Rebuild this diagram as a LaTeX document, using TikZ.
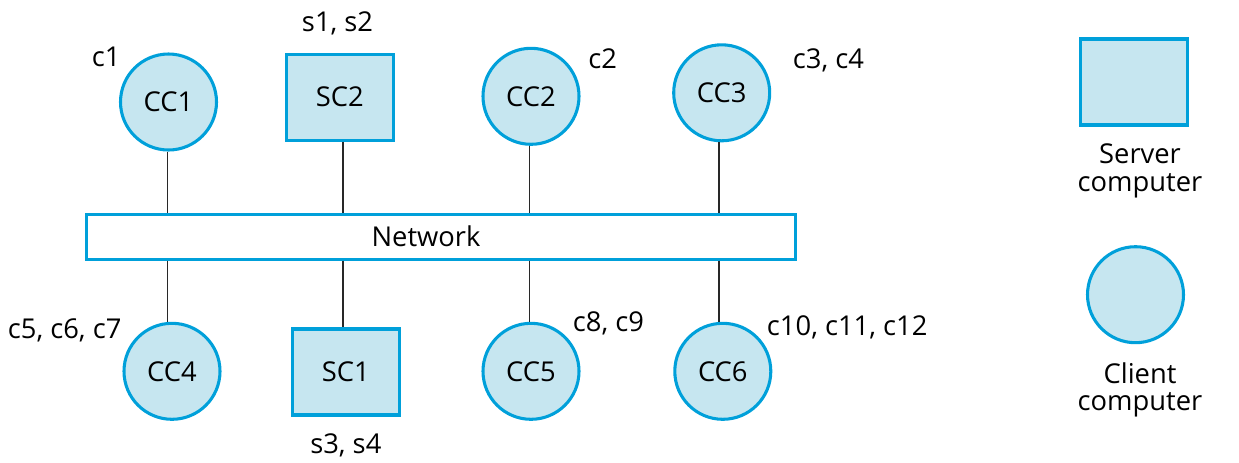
\documentclass[tikz,border=0pt]{standalone}
\usepackage{fontspec}
\setmainfont{Open Sans}
\definecolor{edgeblue}{RGB}{0,160,218}
\definecolor{fillblue}{RGB}{198,230,240}
\definecolor{linegray}{RGB}{40,40,40}
\begin{document}
\begin{tikzpicture}[x=0.75pt,y=-0.75pt,
  every node/.style={font=\fontsize{20.5}{26}\selectfont, text=black},
  client/.style={circle, draw=edgeblue, fill=fillblue, line width=2.3pt, minimum size=72pt, inner sep=0pt},
  server/.style={rectangle, draw=edgeblue, fill=fillblue, line width=2.3pt, minimum width=80pt, minimum height=64.5pt, inner sep=0pt},
  netbox/.style={rectangle, draw=edgeblue, fill=white, line width=2.3pt, minimum width=531.5pt, minimum height=33.3pt, inner sep=0pt},
  tag/.style={anchor=base west, inner sep=0pt},
  conn/.style={draw=linegray, line width=1.1pt}]
\useasboundingbox (0,0) rectangle (1239,462);
% network
\node[netbox] (net) at (440.8,237) {};
\node[inner sep=0pt] (nettext) at (426,236) {Network};
% top row
\node[client] (cc1) at (168.5,102) {CC1};
\node[server] (sc2) at (339.7,97.2) {SC2};
\node[client] (cc2) at (531,96.3) {CC2};
\node[client] (cc3) at (721.7,92.8) {CC3};
% bottom row
\node[client] (cc4) at (172,371.3) {CC4};
\node[server] (sc1) at (345.7,372) {SC1};
\node[client] (cc5) at (531,371.3) {CC5};
\node[client] (cc6) at (722.8,371.3) {CC6};
% connectors
\coordinate (p1) at (167.7,0);
\coordinate (p2) at (343,0);
\coordinate (p3) at (529.3,0);
\coordinate (p4) at (719,0);
\draw[conn] (p1 |- cc1.south) -- (p1 |- net.north);
\draw[conn] (p2 |- sc2.south) -- (p2 |- net.north);
\draw[conn] (p3 |- cc2.south) -- (p3 |- net.north);
\draw[conn] (p4 |- cc3.south) -- (p4 |- net.north);
\draw[conn] (p1 |- net.south) -- (p1 |- cc4.north);
\draw[conn] (p2 |- net.south) -- (p2 |- sc1.north);
\draw[conn] (p3 |- net.south) -- (p3 |- cc5.north);
\draw[conn] (p4 |- net.south) -- (p4 |- cc6.north);
% labels
\node[tag] (l1) at (91.7,66.7) {c1};
\node[tag] (l2) at (301.7,31.7) {s1, s2};
\node[tag] (l3) at (588,68.3) {c2};
\node[tag] (l4) at (792.7,68) {c3, c4};
\node[anchor=base east, inner sep=0pt] (l5) at (121.7,338) {c5, c6, c7};
\node[tag] (l6) at (572.7,331.7) {c8, c9};
\node[tag] (l7) at (766.7,335.7) {c10, c11, c12};
\node[tag] (l8) at (310,453) {s3, s4};
% legend
\node[server] (lsrv) at (1133.8,82) {};
\node[anchor=base, inner sep=0pt] (lsrvt1) at (1140,163) {Server};
\node[anchor=base, inner sep=0pt] (lsrvt2) at (1140,191.5) {computer};
\node[client] (lcli) at (1135.5,294.7) {};
\node[anchor=base, inner sep=0pt] (lclit1) at (1140,383.3) {Client};
\node[anchor=base, inner sep=0pt] (lclit2) at (1140,410) {computer};
\end{tikzpicture}
\end{document}
